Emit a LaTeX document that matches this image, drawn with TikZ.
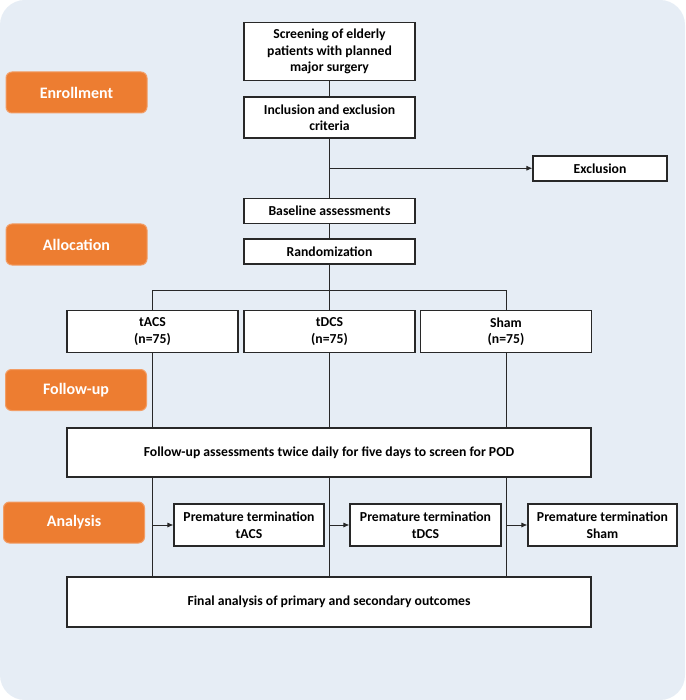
\documentclass[tikz,border=0pt]{standalone}
\usepackage{fontspec}
\setmainfont{Carlito}
\usetikzlibrary{arrows.meta,calc}
\definecolor{bgc}{RGB}{230,237,245}
\definecolor{org}{RGB}{237,125,49}
\definecolor{lin}{RGB}{40,40,40}
\begin{document}
\begin{tikzpicture}[x=1pt,y=-1pt,
  box/.style={draw=lin,line width=1.1pt,fill=white,inner sep=1pt,align=center,
    font=\fontsize{13.7}{16.5}\selectfont\bfseries},
  lbl/.style={fill=org,draw=org!75!white,line width=1pt,rounded corners=6pt,
    text=white,minimum width=141pt,minimum height=41pt,inner sep=0pt,
    font=\fontsize{16}{19}\selectfont\bfseries},
  conn/.style={draw=lin,line width=0.9pt},
  arr/.style={conn,-{Latex[length=6pt,width=5pt]}}]
\useasboundingbox (0,0) rectangle (685,700);
\fill[white] (0,0) rectangle (685,700);
\fill[bgc,rounded corners=25pt] (0,0) rectangle (685,700);
% orange phase labels
\node[lbl] (enr) at (76.5,92.5) {Enrollment};
\node[lbl] (alo) at (76.5,244.5) {Allocation};
\node[lbl] (fol) at (76,390) {Follow-up};
\node[lbl] (ana) at (74,522.5) {Analysis};
% main boxes
\node[box,minimum width=171pt,minimum height=58pt] (scr) at (329.5,51.5)
  {Screening of elderly\\patients with planned\\major surgery};
\node[box,minimum width=171pt,minimum height=41pt] (inc) at (329.5,117.5)
  {Inclusion and exclusion\\criteria};
\node[box,minimum width=134pt,minimum height=25pt] (exc) at (600,168.5) {Exclusion};
\node[box,minimum width=171pt,minimum height=25pt] (bas) at (329.5,211) {Baseline assessments};
\node[box,minimum width=171pt,minimum height=25pt] (ran) at (329.5,251.5) {Randomization};
\node[box,minimum width=171pt,minimum height=42pt] (tac) at (152.5,331.5) {tACS\\(n=75)};
\node[box,minimum width=171pt,minimum height=42pt] (tdc) at (329.5,331.5) {tDCS\\(n=75)};
\node[box,minimum width=171pt,minimum height=42pt] (sha) at (506,331.5) {Sham\\(n=75)};
\node[box,minimum width=524pt,minimum height=49pt] (fu) at (329,452.5)
  {Follow-up assessments twice daily for five days to screen for POD};
\node[box,minimum width=150pt,minimum height=42pt] (pt1) at (249,525) {Premature termination\\tACS};
\node[box,minimum width=151pt,minimum height=42pt] (pt2) at (425.5,525) {Premature termination\\tDCS};
\node[box,minimum width=149pt,minimum height=42pt] (pt3) at (602.5,525) {Premature termination\\Sham};
\node[box,minimum width=524pt,minimum height=50pt] (fin) at (329,602)
  {Final analysis of primary and secondary outcomes};
% connectors
\draw[conn] (scr.south) -- (inc.north);
\draw[conn] (inc.south) -- (bas.north);
\coordinate (br) at ($(inc.south)!0.5!(bas.north)$);
\draw[arr] (br) -- (br -| exc.west);
\draw[conn] (bas.south) -- (ran.north);
\coordinate (sp) at (329.5,290);
\draw[conn] (ran.south) -- (sp);
\draw[conn] (tac.north) |- (sp -| tac.north) -- (sp -| sha.north) -- (sha.north);
\draw[conn] (sp) -- (tdc.north);
\draw[conn] (tac.south) -- (tac.south |- fu.north);
\draw[conn] (tdc.south) -- (tdc.south |- fu.north);
\draw[conn] (sha.south) -- (sha.south |- fu.north);
\draw[conn] (tac.south |- fu.south) -- (tac.south |- fin.north);
\draw[conn] (tdc.south |- fu.south) -- (tdc.south |- fin.north);
\draw[conn] (sha.south |- fu.south) -- (sha.south |- fin.north);
\draw[arr] (tac.south |- pt1.west) -- (pt1.west);
\draw[arr] (tdc.south |- pt2.west) -- (pt2.west);
\draw[arr] (sha.south |- pt3.west) -- (pt3.west);
\end{tikzpicture}
\end{document}
